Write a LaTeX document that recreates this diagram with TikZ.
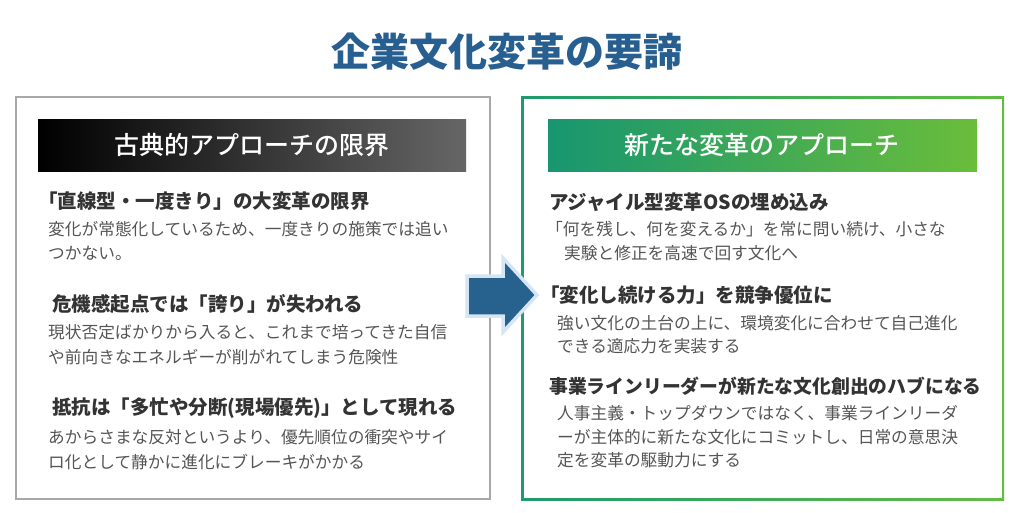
\documentclass[tikz,border=0pt]{standalone}
\usepackage{fontspec}
\setmainfont{Noto Sans CJK JP}
\newfontfamily\jpmed{Noto Sans CJK JP}[UprightFont=* Medium]
\definecolor{titlec}{HTML}{285F91}
\definecolor{headc}{HTML}{333333}
\definecolor{bodyc}{HTML}{555555}
\definecolor{grayframe}{HTML}{A8A8A8}
\definecolor{gL}{HTML}{17966F}
\definecolor{gR}{HTML}{6ABD3B}
\definecolor{gfL}{HTML}{1E9A6C}
\definecolor{gfR}{HTML}{62BC44}
\definecolor{arrowc}{HTML}{27628F}
\definecolor{arrowedge}{HTML}{D5E5F4}
\tikzset{
  hd/.style={anchor=west, inner sep=0pt, text=headc, font=\bfseries\fontsize{19.5}{21}\selectfont, text height=17pt, text depth=2.4pt},
  hdsmall/.style={hd, font=\bfseries\fontsize{18.8}{21}\selectfont},
  bd/.style={anchor=west, inner sep=0pt, text=bodyc, font=\fontsize{16.7}{18}\selectfont, text height=14.5pt, text depth=2pt},
  bartext/.style={inner sep=0pt, text=white, font=\jpmed\fontsize{25}{27}\selectfont, text height=22pt, text depth=3pt},
}
\begin{document}
\begin{tikzpicture}[x=1pt,y=-1pt]
\useasboundingbox (0,0) rectangle (1024,512);
\fill[white] (0,0) rectangle (1024,512);

% title
\node[inner sep=0pt, text=titlec, font=\bfseries\fontsize{39}{42}\selectfont] (title) at (507,52) {企業文化変革の要諦};

% left frame
\draw[grayframe, line width=2.2pt] (16,97) rectangle (490,499);
\shade[left color=black, right color=black!60!white] (38,119) rectangle (466,171);
\node[bartext] (lhead) at (252,145) {古典的アプローチの限界};

% right frame (gradient border)
\shade[left color=gfL, right color=gfR] (521,96) rectangle (1004,500);
\fill[white] (523.5,98.5) rectangle (1001.5,497.5);
\shade[left color=gL, right color=gR] (548,119) rectangle (977,171);
\node[bartext] (rhead) at (762,145) {新たな変革のアプローチ};

% arrow
\draw[arrowedge, line width=3.5pt, fill=arrowc, line join=miter]
  (467,276) -- (503,276) -- (503,258) -- (537,295) -- (503,332) -- (503,316) -- (467,316) -- cycle;

% left texts
\node[hd] (l1h) at (38,201) {「直線型・一度きり」の大変革の限界};
\node[bd] (l1a) at (48,229) {変化が常態化しているため、一度きりの施策では追い};
\node[bd] (l1b) at (48,253) {つかない。};
\node[hd] (l2h) at (52,304) {危機感起点では「誇り」が失われる};
\node[bd] (l2a) at (48,332) {現状否定ばかりから入ると、これまで培ってきた自信};
\node[bd] (l2b) at (48,357) {や前向きなエネルギーが削がれてしまう危険性};
\node[hd] (l3h) at (52,407) {抵抗は「多忙や分断(現場優先)」として現れる};
\node[bd] (l3a) at (48,437) {あからさまな反対というより、優先順位の衝突やサイ};
\node[bd] (l3b) at (48,462) {ロ化として静かに進化にブレーキがかかる};

% right texts
\node[hd] (r1h) at (549,202) {アジャイル型変革OSの埋め込み};
\node[bd] (r1a) at (546,229) {「何を残し、何を変えるか」を常に問い続け、小さな};
\node[bd] (r1b) at (564,253) {実験と修正を高速で回す文化へ};
\node[hd] (r2h) at (540,295) {「変化し続ける力」を競争優位に};
\node[bd] (r2a) at (557,323) {強い文化の土台の上に、環境変化に合わせて自己進化};
\node[bd] (r2b) at (557,346) {できる適応力を実装する};
\node[hdsmall] (r3h) at (549,386) {事業ラインリーダーが新たな文化創出のハブになる};
\node[bd] (r3a) at (557,413) {人事主義・トップダウンではなく、事業ラインリーダ};
\node[bd] (r3b) at (557,437) {ーが主体的に新たな文化にコミットし、日常の意思決};
\node[bd] (r3c) at (557,460) {定を変革の駆動力にする};
\end{tikzpicture}
\end{document}
